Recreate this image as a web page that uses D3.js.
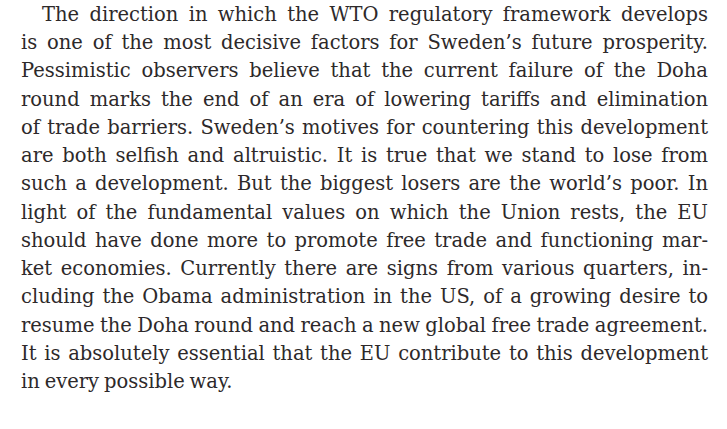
<!DOCTYPE html>
<html>
<head>
<meta charset="utf-8">
<script src="https://cdn.jsdelivr.net/npm/d3@7"></script>
<style>
  body { margin: 0; background: #fff; }
  svg text { font-family: "DejaVu Serif", "Liberation Serif", serif; fill: #2d292a; }
</style>
</head>
<body>
<div id="page"></div>
<script>
// SETUP: page size and text block margins
const W = 727, H = 429;
const margin = { left: 21, right: 19, indent: 21 };
const fontSize = 19.5;

// DATA: the paragraph, one entry per printed line
const lines = [
  "The direction in which the WTO regulatory framework develops",
  "is one of the most decisive factors for Sweden\u2019s future prosperity.",
  "Pessimistic observers believe that the current failure of the Doha",
  "round marks the end of an era of lowering tariffs and elimination",
  "of trade barriers. Sweden\u2019s motives for countering this development",
  "are both selfish and altruistic. It is true that we stand to lose from",
  "such a development. But the biggest losers are the world\u2019s poor. In",
  "light of the fundamental values on which the Union rests, the EU",
  "should have done more to promote free trade and functioning mar-",
  "ket economies. Currently there are signs from various quarters, in-",
  "cluding the Obama administration in the US, of a growing desire to",
  "resume the Doha round and reach a new global free trade agreement.",
  "It is absolutely essential that the EU contribute to this development",
  "in every possible way."
];
// which lines start a paragraph (indented) and which end one (not justified)
const indented = [0];
const lastLines = [13];

// 1: SVG
const svg = d3.select("#page").append("svg")
    .attr("width", W)
    .attr("height", H);

// 2: SCALES - line index to baseline
const y = d3.scaleLinear()
    .domain([0, lines.length - 1])
    .range([21, 388]);

const right = W - margin.right;

// 3: DRAW each line, word by word, justified
lines.forEach((ln, i) => {
    const x0 = margin.left + (indented.includes(i) ? margin.indent : 0);
    const words = ln.split(" ");
    const g = svg.append("text")
        .attr("y", y(i))
        .attr("font-size", fontSize);

    const spans = g.selectAll("tspan")
        .data(words)
        .join("tspan")
        .attr("y", y(i))
        .text(d => d);

    const widths = spans.nodes().map(n => n.getComputedTextLength());
    const total = d3.sum(widths);
    const space = fontSize * 0.25;
    const gap = (lastLines.includes(i) || words.length < 2)
        ? space
        : (right - x0 - total) / (words.length - 1);

    let x = x0;
    spans.each(function(d, k) {
        d3.select(this).attr("x", x);
        x += widths[k] + gap;
    });
});
</script>
</body>
</html>
